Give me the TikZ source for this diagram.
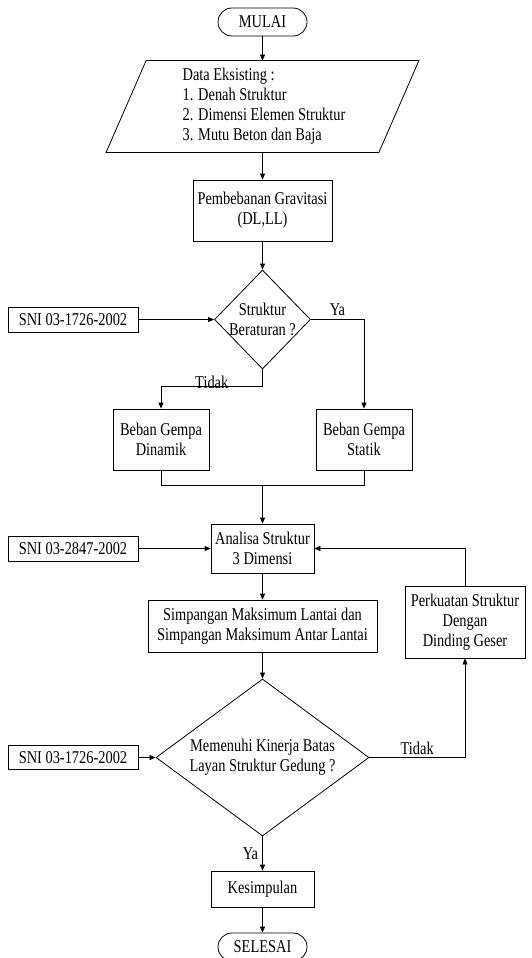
\documentclass[tikz,border=0pt]{standalone}
\usepackage{fontspec}
\setmainfont{Liberation Serif}[FakeStretch=0.8]
\usepackage{tikz}
\usetikzlibrary{positioning, calc, arrows.meta, shapes.geometric}
\tikzset{base/.style={draw, line width=0.8pt, inner sep=0pt, align=center}}
\tikzset{term/.style={base, rounded corners=14pt, minimum width=89pt, minimum height=28pt}}
\tikzset{proc/.style={base, rectangle}}
\tikzset{dec/.style={base, diamond}}
\tikzset{sni/.style={base, minimum width=130pt, minimum height=25pt}}
\tikzset{arr/.style={draw, line width=0.8pt, -{Triangle[length=6pt,width=5pt]}}}
\tikzset{line/.style={draw, line width=0.8pt}}

\begin{document}
\begin{tikzpicture}[x=1pt, y=-1pt, font=\fontsize{18}{20}\selectfont]
	\useasboundingbox (0,0) rectangle (532,958);
	\node[term] (start) at (262.5,22) {MULAI};
	\node[base, draw=none, minimum width=272pt, minimum height=91pt,
		label={[align=left, anchor=west, xshift=53pt]west:Data Eksisting :\\1. Denah Struktur\\2. Dimensi Elemen Struktur\\3. Mutu Beton dan Baja}] (data) at (262.5,106.5) {};
	\draw[line] ($(data.north west)+(20,0)$) -- ($(data.north east)+(20,0)$)
		-- ($(data.south east)+(-20,0)$) -- ($(data.south west)+(-20,0)$) -- cycle;
	\node[proc, minimum width=139pt, minimum height=61pt] (grav) at (262.5,210.5) {Pembebanan Gravitasi\\(DL,LL)};
	\node[dec, minimum width=96pt, minimum height=99pt,
		label={[align=center]center:Struktur\\Beraturan ?}] (dec1) at (262.5,319.5) {};
	\node[sni] (sni1) at (73,319.5) {SNI 03-1726-2002};
	\node[proc, minimum width=96pt, minimum height=61pt] (dina) at (161,439.5) {Beban Gempa\\Dinamik};
	\node[proc, minimum width=96pt, minimum height=61pt] (stat) at (364,439.5) {Beban Gempa\\Statik};
	\node[proc, minimum width=103pt, minimum height=49pt] (ana) at (262.5,548.5) {Analisa Struktur\\3 Dimensi};
	\node[sni] (sni2) at (73,548.5) {SNI 03-2847-2002};
	\node[proc, minimum width=229pt, minimum height=52pt] (simp) at (262.5,626) {Simpangan Maksimum Lantai dan\\Simpangan Maksimum Antar Lantai};
	\node[proc, minimum width=120pt, minimum height=72pt] (perk) at (465,622) {Perkuatan Struktur\\Dengan\\Dinding Geser};
	\node[dec, minimum width=213pt, minimum height=157pt,
		label={[align=center]center:Memenuhi Kinerja Batas\\Layan Struktur Gedung ?}] (dec2) at (262.5,757.5) {};
	\node[sni, minimum height=24pt] (sni3) at (73,757.5) {SNI 03-1726-2002};
	\node[proc, minimum width=103pt, minimum height=36pt] (kes) at (262.5,889) {Kesimpulan};
	\node[term] (fin) at (262.5,947) {SELESAI};

	\draw[arr] (start) -- (data);
	\draw[arr] (data) -- (grav);
	\draw[arr] (grav) -- (dec1);
	\draw[arr] (sni1) -- (dec1);
	\draw[arr] (dec1.east) -| node[pos=0.25, above, inner sep=3pt]{Ya} (stat.north);
	\draw[arr] (dec1.south) -- ++(0,17) -| node[pos=0.25, above, inner sep=0pt, yshift=-3pt]{Tidak} (dina.north);
	\draw[line] (dina.south) -- ++(0,15) coordinate (join) -| (stat.south);
	\draw[arr] (join -| ana.north) -- (ana.north);
	\draw[arr] (sni2) -- (ana);
	\draw[arr] (ana) -- (simp);
	\draw[arr] (simp) -- (dec2);
	\draw[arr] (sni3) -- (dec2);
	\draw[arr] (dec2.east) -| node[pos=0.25, above, inner sep=2pt]{Tidak} (perk.south);
	\draw[arr] (perk.north) |- (ana.east);
	\draw[arr] (dec2.south) -- node[left, inner sep=4pt]{Ya} (kes.north);
	\draw[arr] (kes) -- (fin);
\end{tikzpicture}
\end{document}
